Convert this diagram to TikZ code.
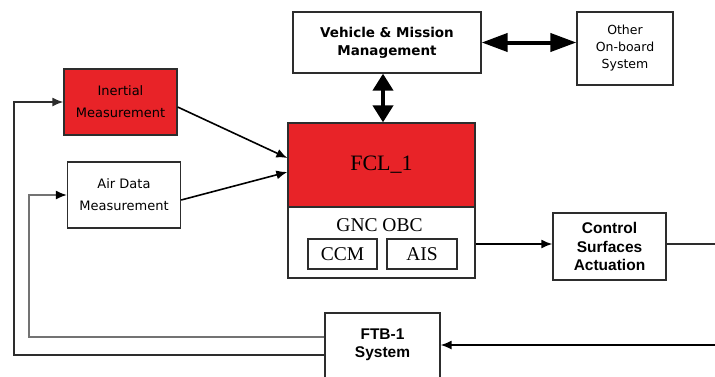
\documentclass[tikz,border=0pt]{standalone}
\usepackage{fontspec}
\setmainfont{Liberation Serif}
\newfontfamily\dvsans{DejaVu Sans}
\newfontfamily\lsans{Liberation Sans}
\usetikzlibrary{arrows.meta,calc}
\definecolor{boxred}{RGB}{232,35,40}
\definecolor{edge}{RGB}{45,45,45}
\tikzset{
  blk/.style={draw=edge, line width=1.3pt, inner sep=0pt, align=center},
  sensfont/.style={font=\dvsans\fontsize{13}{22}\selectfont},
  boldsans/.style={font=\dvsans\bfseries\fontsize{13.5}{18}\selectfont},
  narrowbold/.style={font=\lsans\bfseries\fontsize{15.5}{18.5}\selectfont, align=center},
  serifbig/.style={font=\fontsize{19.5}{22}\selectfont},
  sig/.style={draw=black, line width=1.6pt},
  sigarrow/.style={sig, -{Latex[length=11pt,width=9pt]}},
  fatarrow/.style={draw=black, line width=4pt}
}
\begin{document}
\begin{tikzpicture}[x=1pt, y=-1pt]
\useasboundingbox (0,0) rectangle (715,376);
\clip (0,0) rectangle (715,376);

% management and external systems
\node[blk, boldsans, minimum width=188pt, minimum height=61pt] (vmm) at (387,42.5)
  {Vehicle \& Mission\\Management};
\node[blk, font=\dvsans\fontsize{12.5}{17}\selectfont, minimum width=96pt, minimum height=73pt] (other) at (625,48.5)
  {Other\\On-board\\System};

% sensors
\node[blk, fill=boxred, sensfont, minimum width=113pt, minimum height=66pt] (inertial) at (120.5,102)
  {Inertial\\Measurement};
\node[blk, sensfont, minimum width=113pt, minimum height=66pt] (air) at (124,195)
  {Air Data\\Measurement};

% on-board computer
\node[blk, minimum width=187pt, minimum height=155pt] (gnc) at (381.5,200.5) {};
\node[blk, fill=boxred, font=\fontsize{22}{24}\selectfont, minimum width=187pt, minimum height=84pt] (fcl) at (381.5,165) {FCL\_1};
\node[serifbig] (gnctitle) at (379.5,225) {GNC OBC};
\node[blk, serifbig, minimum width=69pt, minimum height=30pt] (ccm) at (342.5,254) {CCM};
\node[blk, serifbig, minimum width=70pt, minimum height=30pt] (ais) at (422,254) {AIS};

% actuation and flight test box
\node[blk, narrowbold, minimum width=113pt, minimum height=67pt] (csa) at (609.5,246.5)
  {Control\\Surfaces\\Actuation};
\node[blk, minimum width=115pt, minimum height=72pt] (ftb) at (382.5,349) {};
\node[narrowbold] (ftbtext) at (382.5,345) {FTB-1\\System};

% bidirectional data links
\draw[fatarrow, {Triangle[length=26pt,width=18pt]}-{Triangle[length=26pt,width=18pt]}]
  (vmm.east) -- (other.west |- vmm.east);
\draw[fatarrow, {Triangle[length=17pt,width=20pt]}-{Triangle[length=17pt,width=20pt]}]
  ([xshift=1.5pt]fcl.north |- vmm.south) -- ([xshift=1.5pt]fcl.north);

% sensor outputs into the flight control computer
\draw[sigarrow] ([yshift=-5pt]inertial.east) -- ([yshift=7pt]fcl.west);
\draw[sigarrow] ([yshift=-5pt]air.east) -- ([yshift=-7pt]fcl.west);

% commands to the actuators and their output
\coordinate (actout) at (715,244);
\draw[sigarrow] ([yshift=2.5pt]csa.west -| gnc.east) -- ([yshift=2.5pt]csa.west);
\draw[draw=edge, line width=1.3pt] ([yshift=2.5pt]csa.east) -- (actout);

% flight test box input and feedback loops
\coordinate (ftbin) at (715,345);
\draw[sigarrow, line width=1.4pt] (ftbin) -- (ftb.east |- ftbin);

\coordinate (outerlow) at (14,355);
\coordinate (outerhigh) at (14,102);
\draw[draw=edge, line width=1.5pt, -{Latex[length=11pt,width=9pt]}]
  (ftb.west |- outerlow) -- (outerlow) -- (outerhigh) -- (inertial.west);

\coordinate (innerlow) at (29,337);
\coordinate (innerhigh) at (29,195);
\draw[draw=black!55, line width=1.5pt, -{Latex[length=11pt,width=9pt,color=black]}]
  (ftb.west |- innerlow) -- (innerlow) -- (innerhigh) -- (air.west);
\end{tikzpicture}
\end{document}
